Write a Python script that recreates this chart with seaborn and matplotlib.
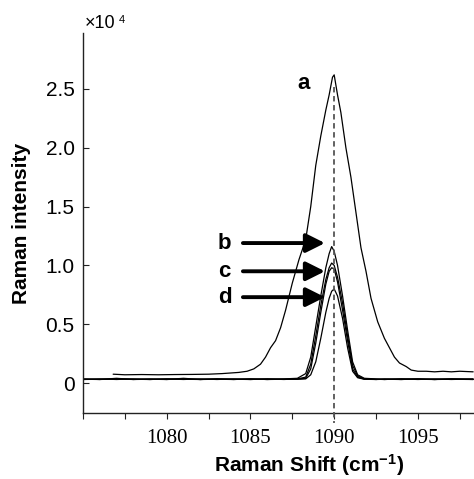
import numpy as np
import pandas as pd
import matplotlib
matplotlib.use("Agg")
import matplotlib.pyplot as plt
import seaborn as sns

# ---------------- data (intensity in units of 10^4) ----------------
a_shift = [1076.8, 1077.5, 1078.5, 1079.5, 1080.5, 1081.5, 1082.5, 1083.3, 1083.8,
           1084.3, 1084.8, 1085.2, 1085.6, 1085.9, 1086.2, 1086.5, 1086.8, 1087.1,
           1087.5, 1087.9, 1088.3, 1088.6, 1088.9, 1089.2, 1089.5, 1089.7, 1089.9,
           1090.0, 1090.2, 1090.4, 1090.7, 1091.0, 1091.3, 1091.6, 1091.9, 1092.2,
           1092.6, 1093.0, 1093.3, 1093.6, 1093.9, 1094.3, 1094.6, 1095.0, 1095.5,
           1096.0, 1096.5, 1097.0, 1097.5, 1098.3]
a_int = [0.075, 0.07, 0.072, 0.07, 0.072, 0.073, 0.075, 0.08, 0.085,
         0.09, 0.10, 0.12, 0.16, 0.22, 0.30, 0.36, 0.47, 0.62,
         0.85, 1.05, 1.22, 1.50, 1.85, 2.10, 2.32, 2.45, 2.60,
         2.62, 2.45, 2.30, 2.00, 1.75, 1.45, 1.15, 0.95, 0.72,
         0.52, 0.38, 0.30, 0.22, 0.17, 0.14, 0.11, 0.10, 0.10,
         0.095, 0.10, 0.095, 0.10, 0.095]

n_shift = [1075, 1076, 1077, 1078, 1079, 1080, 1081, 1082, 1083, 1084, 1085, 1086,
           1087, 1087.8, 1088.3, 1088.6, 1088.9, 1089.2, 1089.5, 1089.7, 1089.85,
           1090.0, 1090.2, 1090.5, 1090.8, 1091.1, 1091.4, 1091.8, 1092.5, 1093,
           1094, 1095, 1096, 1097, 1098.3]
b_int = [0.035, 0.03, 0.04, 0.03, 0.035, 0.03, 0.04, 0.03, 0.035, 0.03, 0.035, 0.03,
         0.035, 0.04, 0.08, 0.22, 0.48, 0.74, 0.98, 1.10, 1.16,
         1.12, 1.00, 0.74, 0.45, 0.18, 0.07, 0.04, 0.035, 0.03,
         0.035, 0.03, 0.035, 0.03, 0.035]
c_int = [0.03, 0.035, 0.03, 0.035, 0.03, 0.035, 0.03, 0.035, 0.03, 0.035, 0.03, 0.035,
         0.03, 0.035, 0.05, 0.16, 0.40, 0.66, 0.88, 0.98, 1.02,
         1.00, 0.90, 0.68, 0.40, 0.15, 0.06, 0.035, 0.03, 0.035,
         0.03, 0.035, 0.03, 0.035, 0.03]
c2_int = [0.032, 0.03, 0.035, 0.032, 0.03, 0.035, 0.032, 0.03, 0.035, 0.032, 0.03, 0.035,
          0.032, 0.033, 0.04, 0.12, 0.34, 0.60, 0.84, 0.95, 0.98,
          0.97, 0.86, 0.62, 0.36, 0.12, 0.05, 0.033, 0.032, 0.03,
          0.035, 0.032, 0.03, 0.035, 0.032]
d_int = [0.03, 0.032, 0.035, 0.03, 0.032, 0.03, 0.035, 0.03, 0.032, 0.03, 0.035, 0.03,
         0.032, 0.032, 0.035, 0.07, 0.18, 0.38, 0.60, 0.72, 0.78,
         0.80, 0.74, 0.55, 0.30, 0.10, 0.045, 0.032, 0.03, 0.032,
         0.03, 0.035, 0.03, 0.032, 0.03]

x_ticks = [1080, 1085, 1090, 1095]
x_minor = [1075, 1077.5, 1082.5, 1087.5, 1092.5, 1097.5]
y_ticks = [0, 0.5, 1.0, 1.5, 2.0, 2.5]
y_ticklabels = ["0", "0.5", "1.0", "1.5", "2.0", "2.5"]
marker_shift = 1090
arrow_labels = ["b", "c", "d"]
arrow_y = [1.19, 0.95, 0.73]

# ---------------- table ----------------
frames = [pd.DataFrame({"shift": a_shift, "intensity": a_int, "series": "a"})]
for name, vals in [("b", b_int), ("c", c_int), ("c2", c2_int), ("d", d_int)]:
    frames.append(pd.DataFrame({"shift": n_shift, "intensity": vals, "series": name}))
df = pd.concat(frames, ignore_index=True)

# ---------------- style ----------------
sns.set_style("ticks")
plt.rcParams["font.family"] = ["Liberation Sans", "DejaVu Sans"]
plt.rcParams["mathtext.fontset"] = "custom"
plt.rcParams["mathtext.rm"] = "Liberation Sans"
plt.rcParams["mathtext.bf"] = "Liberation Sans:bold"
plt.rcParams["mathtext.default"] = "bf"
for k in ["text.color", "axes.labelcolor", "xtick.color", "ytick.color"]:
    plt.rcParams[k] = "black"

W, H = 474, 479
fig = plt.figure(figsize=(W / 100, H / 100), dpi=100)
ax = fig.add_axes([83 / W, 1 - 413 / H, (W - 83) / W, (413 - 33) / H])

sns.lineplot(data=df, x="shift", y="intensity", hue="series", estimator=None,
             sort=False, palette={s: "black" for s in df["series"].unique()},
             linewidth=0.9, legend=False, ax=ax)

ax.set_xlim(1075, 1098.35)
ax.set_ylim(-0.255, 2.976)

# dashed marker line at 1090
ax.plot([marker_shift, marker_shift], [2.52, -0.34], ls=(0, (3, 2)), color="#555555",
        lw=1.3, clip_on=False, zorder=3)

# labels and arrows
ax.text(1088.15, 2.55, "a", fontsize=16, fontweight="bold", ha="center", va="center")
for lab, yv in zip(arrow_labels, arrow_y):
    ax.text(1083.45, yv, lab, fontsize=16, fontweight="bold", ha="center", va="center")
    ax.annotate("", xy=(1089.45, yv), xytext=(1084.55, yv),
                arrowprops=dict(arrowstyle="-|>,head_length=0.6,head_width=0.3",
                                mutation_scale=19, lw=2.8, color="black",
                                shrinkA=0, shrinkB=0))

# axes, ticks
sns.despine(ax=ax)
for sp in ["left", "bottom"]:
    ax.spines[sp].set_linewidth(1.0)
    ax.spines[sp].set_color("#222222")

ax.set_xticks(x_ticks)
ax.set_xticks(x_minor, minor=True)
ax.set_xticklabels([str(t) for t in x_ticks], fontfamily="Liberation Serif", fontsize=15)
ax.tick_params(axis="x", which="both", direction="out", length=4.5, width=0.8,
               color="#222222", pad=7)
ax.set_yticks(y_ticks)
ax.set_yticklabels(y_ticklabels, fontsize=15)
ax.tick_params(axis="y", direction="in", length=4, width=0.8, color="#222222", pad=6)

ax.set_xlabel("Raman Shift (cm$^{-1}$)", fontsize=15, fontweight="bold")
ax.xaxis.set_label_coords((309 - 83) / (W - 83), -0.104)
ax.set_ylabel("Raman intensity", fontsize=15, fontweight="bold")
ax.yaxis.set_label_coords((31 - 83) / (W - 83), 0.5)

# x10^4 multiplier
fig.text(85 / W, 1 - 24 / H, "\u00d710", fontsize=13, ha="left", va="center")
fig.text(119 / W, 1 - 20 / H, "4", fontsize=8, ha="left", va="center")

fig.savefig("out.png", dpi=100)
